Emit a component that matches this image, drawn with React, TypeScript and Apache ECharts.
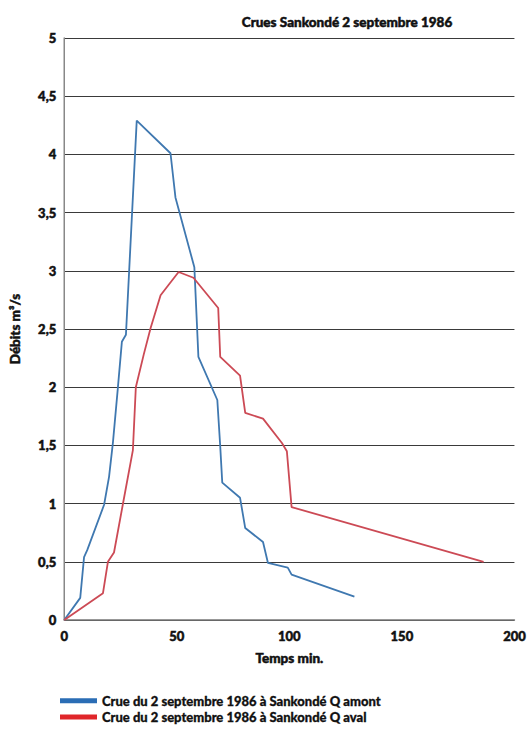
import React, { useEffect, useRef } from "react";
import * as echarts from "echarts";

const titleText = "Crues Sankondé 2 septembre 1986";
const seriesNames = [
  "Crue du 2 septembre 1986 à Sankondé Q amont",
  "Crue du 2 septembre 1986 à Sankondé Q aval",
];
const amontTime = [0, 7.1, 8.8, 10.2, 17.7, 19.9, 21.6, 23.8, 25.6, 27.4, 32.2, 47.2, 49.4, 57.8, 59.6, 68, 69.3, 70.2, 78.1, 80.4, 88.3, 90.5, 99.3, 101, 128.9];
const amontQ = [0, 0.19, 0.54, 0.6, 0.99, 1.23, 1.52, 1.99, 2.39, 2.45, 4.29, 4.01, 3.63, 3.03, 2.26, 1.89, 1.49, 1.18, 1.05, 0.79, 0.67, 0.49, 0.45, 0.39, 0.2];
const avalTime = [0, 17.2, 19.4, 22.1, 26, 30.5, 31.8, 35.3, 38.4, 42.8, 46.4, 50.8, 57.4, 68.4, 69.3, 78.1, 80.4, 88.3, 96.7, 98.9, 101, 186.3];
const avalQ = [0, 0.23, 0.5, 0.58, 0.99, 1.46, 2.0, 2.28, 2.51, 2.79, 2.88, 2.99, 2.94, 2.68, 2.26, 2.1, 1.78, 1.73, 1.52, 1.45, 0.97, 0.5];
const colors = ["#2a6db5", "#e0262a"];
const fontFam = "Lato, 'Open Sans', sans-serif";
const heavy = { fontFamily: fontFam, fontWeight: 900, color: "#111", textBorderColor: "#111", textBorderWidth: 0.5 };

export default function App() {
  const ref = useRef<HTMLDivElement>(null);
  useEffect(() => {
    if (!ref.current) return;
    const chart = echarts.init(ref.current, null, { renderer: "svg" });
    const toPairs = (xs: number[], ys: number[]) => xs.map((x, i) => [x, ys[i]]);
    chart.setOption({
      animation: false,
      backgroundColor: "#ffffff",
      title: {
        text: titleText,
        left: 342,
        top: 10,
        textAlign: "center",
        textStyle: { ...heavy, fontSize: 13.5 },
      },
      grid: { left: 63, right: 13, top: 38, bottom: 112 },
      legend: {
        orient: "vertical",
        left: 55,
        top: 689,
        itemWidth: 37,
        itemHeight: 5,
        itemGap: 3,
        icon: "rect",
        textStyle: { ...heavy, fontSize: 13, textBorderWidth: 0.3 },
        data: seriesNames,
      },
      xAxis: {
        type: "value",
        min: 0,
        max: 200,
        interval: 50,
        name: "Temps min.",
        nameLocation: "middle",
        nameGap: 31,
        nameTextStyle: { ...heavy, fontSize: 13.5 },
        axisLine: { show: true, lineStyle: { color: "#777", width: 1.5 } },
        axisTick: { show: false },
        splitLine: { show: false },
        axisLabel: { ...heavy, fontSize: 13, margin: 9 },
      },
      yAxis: {
        type: "value",
        min: 0,
        max: 5,
        interval: 0.5,
        name: "Débits m³/s",
        nameLocation: "middle",
        nameGap: 42,
        nameRotate: 90,
        nameTextStyle: { ...heavy, fontSize: 13.5 },
        axisLine: { show: true, lineStyle: { color: "#888", width: 1.5 } },
        axisTick: { show: false },
        splitLine: { show: true, lineStyle: { color: "#3a3a3a", width: 1.2 } },
        axisLabel: {
          ...heavy,
          fontSize: 13,
          margin: 8,
          formatter: (v: number) => String(v).replace(".", ","),
        },
      },
      series: [
        {
          name: seriesNames[0],
          type: "line",
          data: toPairs(amontTime, amontQ),
          showSymbol: false,
          symbol: "none",
          color: colors[0],
          lineStyle: { width: 1.8, color: "#3f78b0" },
        },
        {
          name: seriesNames[1],
          type: "line",
          data: toPairs(avalTime, avalQ),
          showSymbol: false,
          symbol: "none",
          color: colors[1],
          lineStyle: { width: 1.8, color: "#cc4a55" },
        },
      ],
    });
    return () => chart.dispose();
  }, []);
  return <div ref={ref} style={{ width: 529, height: 732, position: "absolute", left: 0, top: 0 }} />;
}
